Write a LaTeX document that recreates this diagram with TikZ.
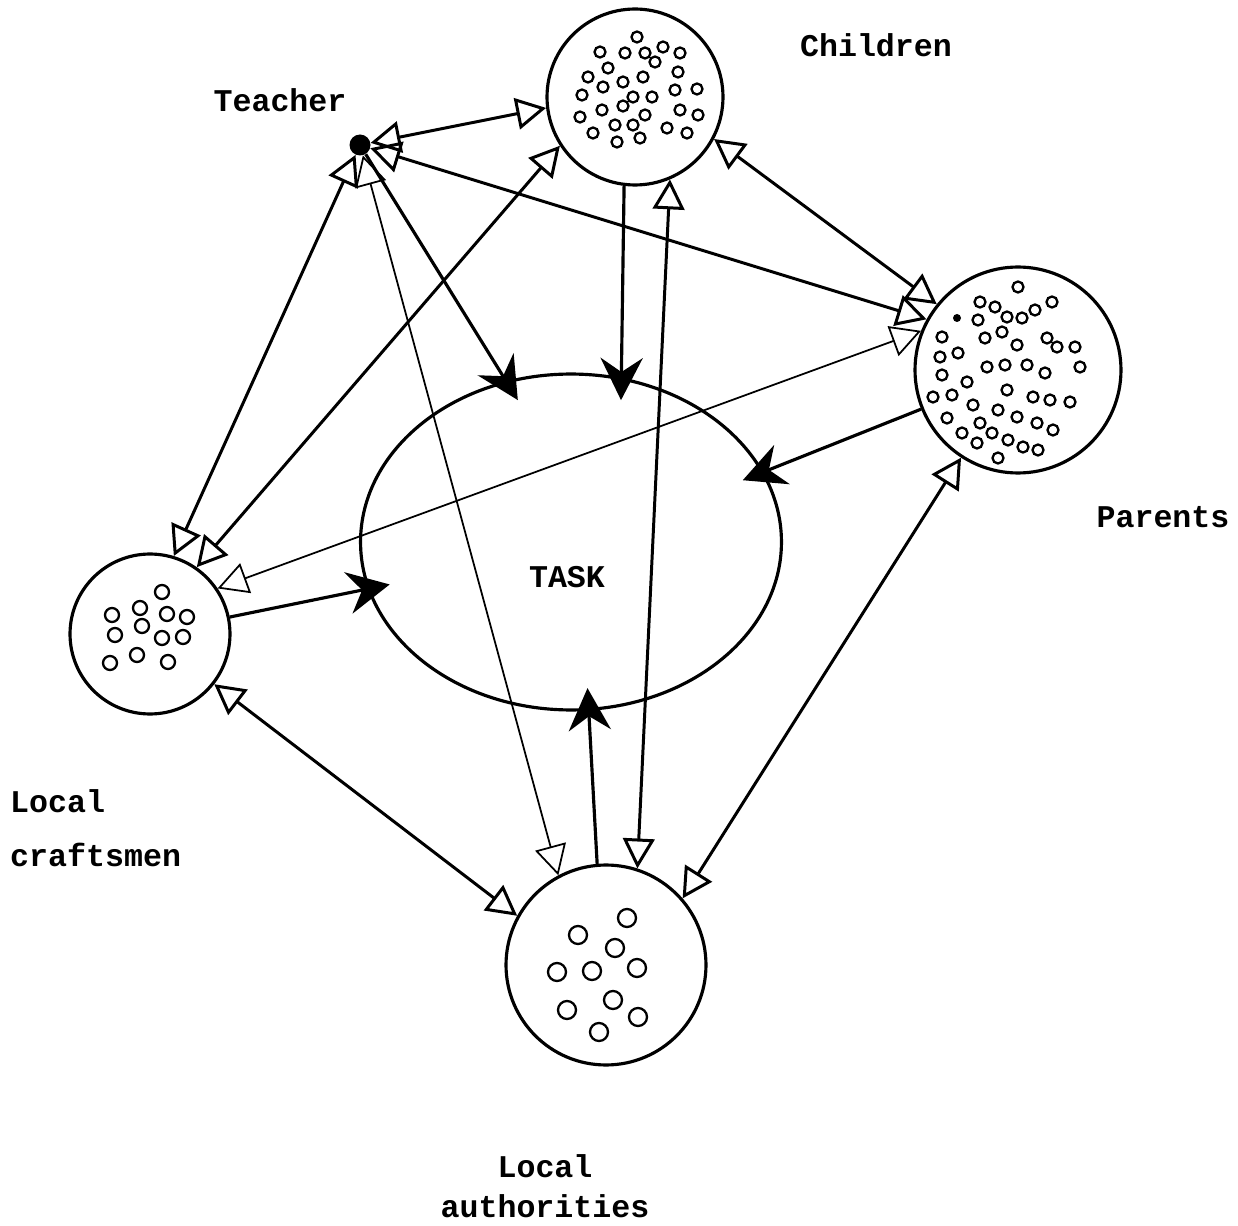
\documentclass[tikz,border=0pt]{standalone}
\usepackage{fontspec}
\setmonofont{Liberation Mono}
\usetikzlibrary{arrows.meta,shapes.geometric}
\tikzset{
	>={Triangle[open, length=17pt, width=18pt]}
}

\begin{document}
\begin{tikzpicture}[
x = 0.02cm, y = -0.02cm,
every node/.style = {
	font = \ttfamily\bfseries\fontsize{18}{31}\selectfont
},
group/.style = {
	draw,
	circle,
	line width = 1.8pt,
	inner sep = 0pt
},
member/.style = {
	line width = 1.3pt
},
link/.style = {
	<->,
	line width = 1.7pt
},
thinlink/.style = {
	link,
	line width = 1pt
},
totask/.style = {
	-{Stealth[length=24pt, width=24pt, inset=8pt]},
	line width = 1.8pt,
	shorten > = -13pt
}
]
\useasboundingbox (0,0) rectangle (1238,1226);

\node (teacher) [circle, fill, inner sep = 0pt, minimum size = 0.42cm] at (360,145) {};
\node (teacher_t) at (280,100) {Teacher};

\node (children) [group, minimum size = 3.52cm] at (635,97) {};
\node (children_t) at (876,45) {Children};

\node (parents) [group, minimum size = 4.12cm] at (1018,370) {};
\node (parents_t) at (1163,517) {Parents};

\node (crafts) [group, minimum size = 3.2cm] at (150,634) {};
\node (crafts_t) [align = left, anchor = west] at (4,828) {Local\\craftsmen};

\node (authorities) [group, minimum size = 4cm] at (606,965) {};
\node (authorities_t) [align = center, font = \ttfamily\bfseries\fontsize{18}{23}\selectfont]
	at (545,1186) {Local\\authorities};

\node (task) [draw, ellipse, line width = 1.8pt, inner sep = 0pt,
	minimum width = 8.42cm, minimum height = 6.72cm] at (571,542) {};
\node (task_t) at (567,577) {TASK};

% people inside the groups
\foreach \px/\py in {637/37, 600/52, 625/53, 645/53, 663/47, 680/53, 608/68,
	655/62, 588/77, 643/77, 678/72, 603/87, 623/82, 675/90, 697/89, 582/95,
	633/97, 652/97, 602/110, 623/106, 645/115, 680/110, 698/115, 580/117,
	615/125, 633/125, 667/128, 687/133, 593/133, 617/142, 640/138}
	\draw [member] (\px,\py) circle [radius = 5.5];

\foreach \px/\py in {1018/287, 980/302, 995/307, 1007/317, 1022/318, 1035/310,
	1052/302, 978/320, 1002/332, 985/338, 942/337, 1017/345, 1047/338,
	1057/347, 1075/347, 940/357, 958/353, 987/367, 1005/365, 1027/365,
	1045/373, 1080/367, 942/375, 967/382, 1007/390, 933/397, 952/395,
	973/405, 1033/397, 1050/400, 1070/402, 998/410, 1017/417, 947/418,
	980/423, 1037/423, 1053/430, 962/433, 992/433, 977/443, 1008/440,
	1023/447, 1038/450, 998/458}
	\draw [member] (\px,\py) circle [radius = 5.5];
\fill (957,318) circle [radius = 4];

\foreach \px/\py in {162/592, 112/615, 140/608, 167/614, 187/617, 142/626,
	115/635, 162/638, 183/637, 110/663, 137/655, 168/662}
	\draw [member] (\px,\py) circle [radius = 7];

\foreach \px/\py in {627/918, 578/935, 615/948, 557/972, 592/971, 637/968,
	613/1000, 567/1010, 638/1017, 599/1032}
	\draw [member] (\px,\py) circle [radius = 9];

% links
\draw [link] (teacher) -- (children.187);
\draw [link] (teacher) -- (parents.151);
\draw [link] (teacher) -- (crafts.73);
\draw [thinlink] (teacher) -- (authorities.118);
\draw [totask] (teacher) -- (task.112);

\draw [link] (children.332) -- (parents.141);
\draw [link] (children.213) -- (crafts.55);
\draw [link] (children.293) -- (authorities.72);
\draw [totask] (children.263) -- (task.73);

\draw [thinlink] (parents.158) -- (crafts.34);
\draw [link] (parents.237) -- (authorities.41);
\draw [totask] (parents.202) -- (task.20);

\draw [link] (crafts.322) -- (authorities.151);
\draw [totask] (crafts.12) -- (task.193);

\draw [totask] (authorities.95) -- (task.276);
\end{tikzpicture}
\end{document}
